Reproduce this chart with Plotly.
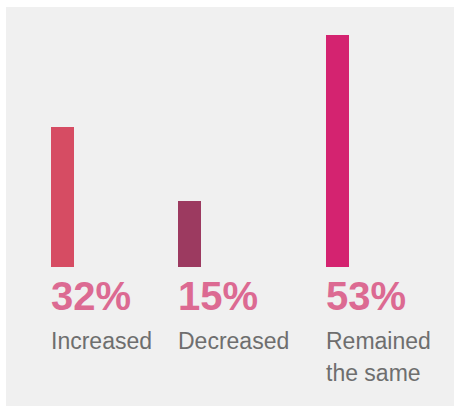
import plotly.graph_objects as go

categories = ["Increased", "Decreased", "Remained the same"]
label_lines = [["Increased"], ["Decreased"], ["Remained", "the same"]]
values = [32, 15, 53]
bar_colors = ["#d64c63", "#9c3a60", "#d42370"]

# layout constants (pixel-based x axis)
W, H = 454, 406
col_left = [51, 178, 326]
bar_w = 23
px_per_pct = 4.38
base_px = 267
top_px = 7
left_px = 6

y_top = (base_px - top_px) / px_per_pct
y_bot = (base_px - H) / px_per_pct

def py(p):
    return (base_px - p) / px_per_pct

fig = go.Figure()
fig.add_trace(go.Bar(
    x=[c + bar_w / 2 for c in col_left],
    y=values,
    width=bar_w,
    marker=dict(color=bar_colors, line=dict(width=0)),
    hoverinfo="skip",
))

annotations = []
for c, v, lines in zip(col_left, values, label_lines):
    annotations.append(dict(
        x=c - 2, y=py(296), xref="x", yref="y", xanchor="left", yanchor="middle",
        text=f"<b>{v}%</b>", showarrow=False,
        font=dict(family="Liberation Sans, Arial, sans-serif", size=40, color="#dc6a92"),
    ))
    for i, ln in enumerate(lines):
        annotations.append(dict(
            x=c - 2, y=py(341 + 32 * i), xref="x", yref="y", xanchor="left", yanchor="middle",
            text=ln, showarrow=False,
            font=dict(family="Liberation Sans, Arial, sans-serif", size=23, color="#6e6e6e"),
        ))

fig.update_layout(
    width=W, height=H,
    margin=dict(l=0, r=0, t=0, b=0, pad=0),
    paper_bgcolor="white",
    plot_bgcolor="#f0f0f0",
    showlegend=False,
    xaxis=dict(domain=[left_px / W, 1], range=[left_px, W], visible=False, fixedrange=True),
    yaxis=dict(domain=[0, 1 - top_px / H], range=[y_bot, y_top], visible=False, fixedrange=True),
    annotations=annotations,
    bargap=0,
)

fig.write_html("out.html", config={"displayModeBar": False})
